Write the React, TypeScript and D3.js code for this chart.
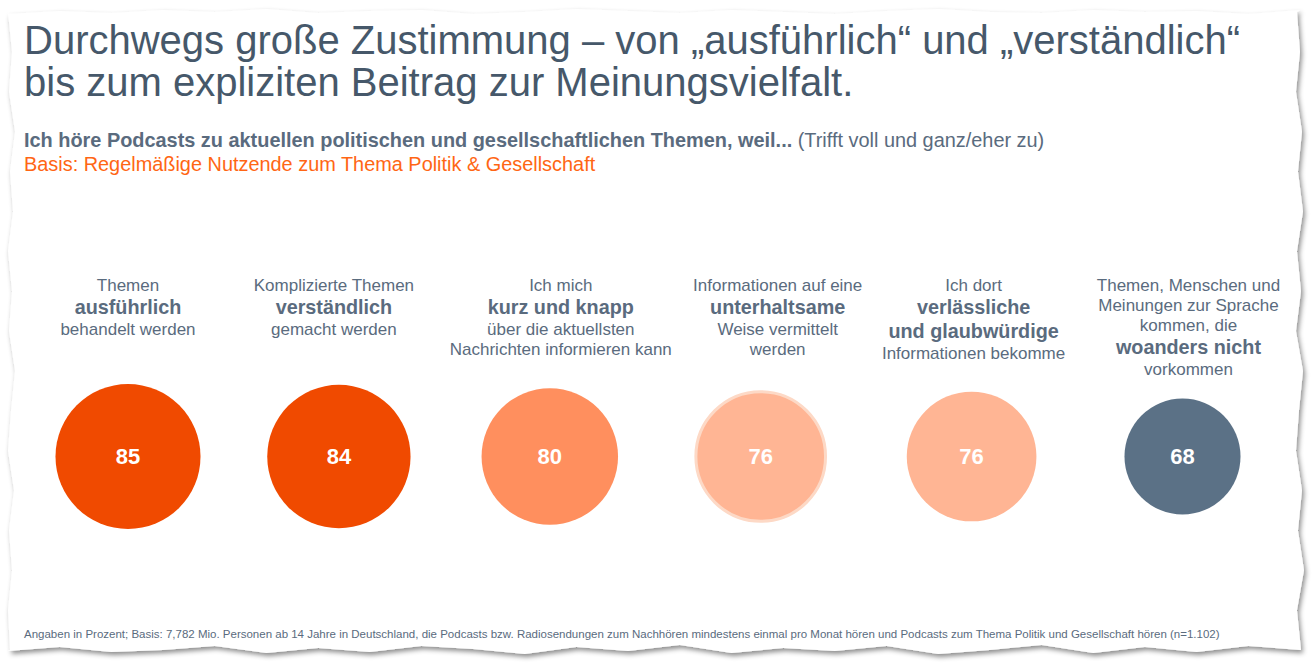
import React from "react";
import * as d3 from "d3";

const titleLines = [
  "Durchwegs große Zustimmung – von „ausführlich“ und „verständlich“",
  "bis zum expliziten Beitrag zur Meinungsvielfalt.",
];
const subtitleBold = "Ich höre Podcasts zu aktuellen politischen und gesellschaftlichen Themen, weil...";
const subtitleRegular = " (Trifft voll und ganz/eher zu)";
const basisText = "Basis: Regelmäßige Nutzende zum Thema Politik & Gesellschaft";
const footnote =
  "Angaben in Prozent; Basis: 7,782 Mio. Personen ab 14 Jahre in Deutschland, die Podcasts bzw. Radiosendungen zum Nachhören mindestens einmal pro Monat hören und Podcasts zum Thema Politik und Gesellschaft hören (n=1.102)";

const categories = ["ausfuehrlich", "verstaendlich", "kurz", "unterhaltsam", "verlaesslich", "woanders"];
const values = [85, 84, 80, 76, 76, 68];
const colors = ["#F04A00", "#F04A00", "#FF8F5E", "#FFB594", "#FFB594", "#5B7186"];
const outlined = [false, false, false, true, false, false];

// label lines: [text, bold?]
const labels: [string, boolean][][] = [
  [["Themen", false], ["ausführlich", true], ["behandelt werden", false]],
  [["Komplizierte Themen", false], ["verständlich", true], ["gemacht werden", false]],
  [["Ich mich", false], ["kurz und knapp", true], ["über die aktuellsten", false], ["Nachrichten informieren kann", false]],
  [["Informationen auf eine", false], ["unterhaltsame", true], ["Weise vermittelt", false], ["werden", false]],
  [["Ich dort", false], ["verlässliche", true], ["und glaubwürdige", true], ["Informationen bekomme", false]],
  [["Themen, Menschen und", false], ["Meinungen zur Sprache", false], ["kommen, die", false], ["woanders nicht", true], ["vorkommen", false]],
];
// horizontal nudge of each label block relative to its circle (layout)
const labelNudge = [0, -5, 11, 17, 2, 6];

// torn paper edge jitter (decoration)
const topJitter = [14, 11, 13, 10, 12, 9, 13, 11, 10, 14, 12, 9, 11, 13, 10, 12, 14, 11, 9, 12, 13, 10, 12, 11, 14, 10];
const rightJitter = [1297, 1300, 1296, 1302, 1298, 1303, 1297, 1301, 1296, 1303, 1299, 1296, 1302, 1298, 1304, 1297, 1301];
const bottomJitter = [650, 646, 652, 647, 653, 645, 650, 654, 646, 651, 648, 653, 645, 651, 647, 654, 649, 646, 652, 648, 653, 646, 650, 652, 647, 651];
const leftJitter = [10, 8, 12, 9, 14, 8, 11, 15, 9, 12, 8, 13, 10, 15, 9, 12, 8];

const W = 1315;
const H = 667;
const FONT = "'Liberation Sans', Arial, Helvetica, sans-serif";
const TEXT = "#5A6B7E";

function paperPath() {
  const pts: [number, number][] = [];
  const left = 8, right = 1300, top = 12, bottom = 650;
  topJitter.forEach((y, i) => pts.push([left + ((right - left) * i) / (topJitter.length - 1), y]));
  rightJitter.forEach((x, i) => pts.push([x, top + ((bottom - top) * i) / (rightJitter.length - 1)]));
  bottomJitter.forEach((y, i) => pts.push([right - ((right - left) * i) / (bottomJitter.length - 1), y]));
  leftJitter.forEach((x, i) => pts.push([x, bottom - ((bottom - top) * i) / (leftJitter.length - 1)]));
  return d3.line()(pts) + "Z";
}

export default function App() {
  const x = d3.scalePoint<string>().domain(categories).range([128, 1182.5]);
  const r = d3.scaleLinear().domain([0, 100]).range([0, 85.3]);
  const cy = 456.5;

  return (
    <svg width={W} height={H} style={{ position: "absolute", left: 0, top: 0, display: "block" }} fontFamily={FONT}>
      <defs>
        <filter id="shadow" x="-5%" y="-5%" width="110%" height="110%">
          <feDropShadow dx="2" dy="3" stdDeviation="2.5" floodColor="#000" floodOpacity="0.45" />
        </filter>
      </defs>
      <rect width={W} height={H} fill="#fff" />
      <path d={paperPath()} fill="#fff" filter="url(#shadow)" />

      {titleLines.map((t, i) => (
        <text key={i} x={24} y={54 + i * 42} fontSize={40} fill="#46586A">
          {t}
        </text>
      ))}
      <text x={24} y={147} fontSize={19.9} fill={TEXT}>
        <tspan fontWeight="bold">{subtitleBold}</tspan>
        <tspan>{subtitleRegular}</tspan>
      </text>
      <text x={24} y={170.5} fontSize={19.9} fill="#FF6614">
        {basisText}
      </text>

      {categories.map((c, i) => {
        const cx = x(c)!;
        const lx = cx + labelNudge[i];
        let y = 290.7;
        const lines = labels[i].map((ln, j) => {
          if (j > 0) {
            const prevBold = labels[i][j - 1][1];
            y += 20 + (ln[1] ? 2.8 : 0) + (prevBold ? 1.5 : 0);
          }
          return (
            <text
              key={j}
              x={lx}
              y={y}
              textAnchor="middle"
              fontSize={ln[1] ? 19.8 : 17}
              fontWeight={ln[1] ? "bold" : "normal"}
              fill={TEXT}
            >
              {ln[0]}
            </text>
          );
        });
        return (
          <g key={c}>
            {lines}
            <circle
              cx={cx}
              cy={cy}
              r={r(values[i])}
              fill={colors[i]}
              stroke={outlined[i] ? "#FDD9C6" : "none"}
              strokeWidth={outlined[i] ? 3 : 0}
            />
            <text
              x={cx}
              y={cy}
              dy="0.36em"
              textAnchor="middle"
              fontSize={22}
              fontWeight="bold"
              fill="#fff"
            >
              {values[i]}
            </text>
          </g>
        );
      })}

      <text x={24} y={638} fontSize={11.5} fill={TEXT}>
        {footnote}
      </text>
    </svg>
  );
}
